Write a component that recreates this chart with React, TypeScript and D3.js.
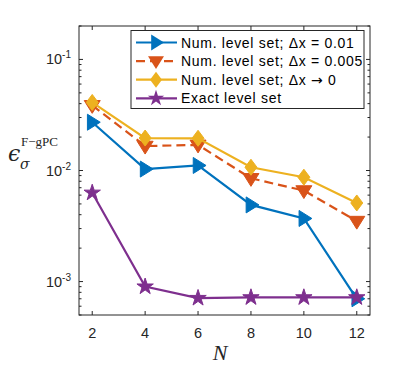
import * as d3 from "d3";

const nValues = [2, 4, 6, 8, 10, 12];
const numDx01 = [0.0272, 0.0103, 0.0111, 0.0049, 0.0037, 0.0007];
const numDx005 = [0.0386, 0.0166, 0.017, 0.0085, 0.0066, 0.0035];
const numDx0 = [0.041, 0.0196, 0.0195, 0.0107, 0.0087, 0.0051];
const exact = [0.0063, 0.0009, 0.00071, 0.00072, 0.00072, 0.00072];
const xTicks = [2, 4, 6, 8, 10, 12];
const yTicks = [1e-3, 1e-2, 1e-1];

const series = [
  { name: "Num. level set; \u0394x = 0.01", vals: numDx01, color: "#0072BD", marker: "right", dash: "" },
  { name: "Num. level set; \u0394x = 0.005", vals: numDx005, color: "#D95319", marker: "down", dash: "9,5" },
  { name: "Num. level set; \u0394x \u2192 0", vals: numDx0, color: "#EDB120", marker: "diamond", dash: "" },
  { name: "Exact level set", vals: exact, color: "#7E2F8E", marker: "star", dash: "" },
];

const W = 399, H = 371;
const m = { left: 79, right: 29, top: 26, bottom: 56 };
const iw = W - m.left - m.right;
const ih = H - m.top - m.bottom;

function markerPath(kind: string, r: number) {
  if (kind === "right") return `M${-r * 0.6},${-r}L${r},0L${-r * 0.6},${r}Z`;
  if (kind === "down") return `M${-r},${-r * 0.6}L${r},${-r * 0.6}L0,${r}Z`;
  if (kind === "diamond") return `M0,${-r}L${r * 0.75},0L0,${r}L${-r * 0.75},0Z`;
  return d3.symbol(d3.symbolStar, r * r * 1.3)()!;
}

// arrow glyph gets its own font, Liberation's one is tiny
function legendLabel(name: string) {
  const parts = name.split("\u2192");
  if (parts.length === 1) return name;
  return (
    <>
      {parts[0]}
      <tspan fontFamily="'DejaVu Sans', sans-serif">{"\u2192"}</tspan>
      {parts[1]}
    </>
  );
}

export default function App() {
  const x = d3.scaleLinear().domain([1.5, 12.5]).range([0, iw]);
  const y = d3.scaleLog().domain([5e-4, 0.2]).range([ih, 0]);
  const line = d3
    .line<number>()
    .x((_, i) => x(nValues[i]))
    .y((v) => y(v));

  const minor: number[] = [];
  for (let e = -4; e <= -1; e++) {
    for (let k = 2; k <= 9; k++) {
      const v = k * Math.pow(10, e);
      if (v >= 5e-4 && v <= 0.2) minor.push(v);
    }
  }
  const axisCol = "#262626";
  const font = "'Liberation Sans', Arial, sans-serif";

  return (
    <svg width={W} height={H} style={{ position: "absolute", left: 0, top: 0 }}>
      <rect width={W} height={H} fill="#fff" />
      <g transform={`translate(${m.left},${m.top})`}>
        {series.map((s) => (
          <g key={s.name}>
            <path d={line(s.vals)!} fill="none" stroke={s.color} strokeWidth={2.2} strokeDasharray={s.dash} />
            {s.vals.map((v, i) => (
              <path
                key={i}
                d={markerPath(s.marker, 8)}
                transform={`translate(${x(nValues[i])},${y(v)})`}
                fill={s.color}
                stroke={s.color}
                strokeWidth={1}
              />
            ))}
          </g>
        ))}
        <rect width={iw} height={ih} fill="none" stroke={axisCol} strokeWidth={1} />
        {xTicks.map((t) => (
          <g key={t}>
            <line x1={x(t)} x2={x(t)} y1={ih} y2={ih - 4} stroke={axisCol} />
            <line x1={x(t)} x2={x(t)} y1={0} y2={4} stroke={axisCol} />
            <text x={x(t)} y={ih + 23} textAnchor="middle" fontSize={14.5} fontFamily={font} fill={axisCol}>
              {t}
            </text>
          </g>
        ))}
        {yTicks.map((t) => (
          <g key={t}>
            <line x1={0} x2={4} y1={y(t)} y2={y(t)} stroke={axisCol} />
            <line x1={iw} x2={iw - 4} y1={y(t)} y2={y(t)} stroke={axisCol} />
            <text x={-8} y={y(t) + 5} textAnchor="end" fontSize={14.5} fontFamily={font} fill={axisCol}>
              10
              <tspan dy={-6} fontSize={10}>
                {Math.round(Math.log10(t))}
              </tspan>
            </text>
          </g>
        ))}
        {minor.map((t) => (
          <g key={t}>
            <line x1={0} x2={2.5} y1={y(t)} y2={y(t)} stroke={axisCol} />
            <line x1={iw} x2={iw - 2.5} y1={y(t)} y2={y(t)} stroke={axisCol} />
          </g>
        ))}
        <g transform={`translate(52,4.5)`}>
          <rect width={233} height={78} fill="#fff" stroke={axisCol} strokeWidth={1} />
          {series.map((s, i) => {
            const ly = 12 + i * 18.6;
            return (
              <g key={s.name}>
                <line x1={5} x2={46} y1={ly} y2={ly} stroke={s.color} strokeWidth={2.2} strokeDasharray={s.dash} />
                <path d={markerPath(s.marker, 8)} transform={`translate(25,${ly})`} fill={s.color} />
                <text x={50} y={ly + 5} fontSize={14} letterSpacing={0.7} fontFamily={font} fill="#000">
                  {legendLabel(s.name)}
                </text>
              </g>
            );
          })}
        </g>
      </g>
      <text x={8} y={161} fontFamily="'DejaVu Serif', serif" fontStyle="italic" fontSize={22} fill={axisCol}>
        {"\u03f5"}
      </text>
      <text x={20} y={169} fontFamily="'DejaVu Serif', serif" fontStyle="italic" fontSize={14} fill={axisCol}>
        {"\u03c3"}
      </text>
      <text x={21} y={146} fontFamily="'Liberation Serif', serif" fontSize={13} fill={axisCol}>
        {"F\u2212gPC"}
      </text>
      <text x={220} y={360} textAnchor="middle" fontFamily="'Liberation Serif', serif" fontStyle="italic" fontSize={22} fill={axisCol}>
        N
      </text>
    </svg>
  );
}
